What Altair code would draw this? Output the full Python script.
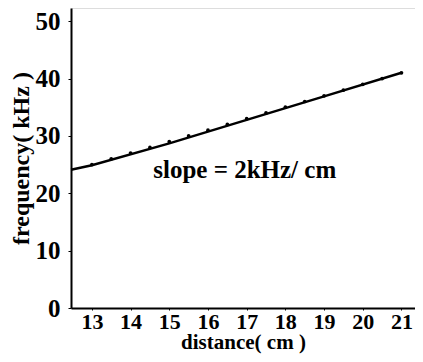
import altair as alt
import pandas as pd

# measured points (distance cm, frequency kHz)
dist_pts = [13, 13.5, 14, 14.5, 15, 15.5, 16, 16.5, 17, 17.5, 18, 18.5, 19, 19.5, 20, 20.5, 21]
freq_pts = [25, 26, 27, 28, 29, 30, 31, 32, 33, 34, 35, 36, 37, 38, 39, 40, 41]

# fitted line
line_x = [12.46, 13.0, 15.0, 17.0, 19.0, 21.0]
line_y = [24.1, 24.9, 28.7, 32.8, 36.9, 41.0]

x_ticks = [13, 14, 15, 16, 17, 18, 19, 20, 21]
y_ticks = [0, 10, 20, 30, 40, 50]

label_text = ["slope = 2kHz/ cm"]
label_x = [16.95]
label_y = [24.0]

FONT = "Liberation Serif"

pts = pd.DataFrame({"d": dist_pts, "f": freq_pts})
ln = pd.DataFrame({"d": line_x, "f": line_y})
lab = pd.DataFrame({"d": label_x, "f": label_y, "t": label_text})

xs = alt.Scale(domain=[12.46, 21.35], nice=False, zero=False)
ys = alt.Scale(domain=[0, 52.3], nice=False)

xaxis = alt.Axis(values=x_ticks, title="distance( cm )", grid=False, labelFont=FONT,
                 labelFontSize=22, labelFontWeight="bold", labelColor="black",
                 titleFont=FONT, titleFontSize=21, titleFontWeight="bold", titleColor="black",
                 domainColor="black", domainWidth=2, tickColor="black", tickSize=2,
                 labelPadding=1, titlePadding=-1, labelFlush=False)
yaxis = alt.Axis(values=y_ticks, title="frequency( kHz )", grid=False, labelFont=FONT,
                 labelFontSize=25, labelFontWeight="bold", labelColor="black",
                 titleFont=FONT, titleFontSize=24, titleFontWeight="bold", titleColor="black",
                 domainColor="black", domainWidth=2, tickColor="black", tickSize=3,
                 labelPadding=8, titlePadding=2, labelFlush=False)

line = alt.Chart(ln).mark_line(color="black", strokeWidth=2.5).encode(
    x=alt.X("d:Q", scale=xs, axis=xaxis),
    y=alt.Y("f:Q", scale=ys, axis=yaxis),
)
dots = alt.Chart(pts).mark_point(filled=True, color="black", size=14, opacity=1).encode(
    x=alt.X("d:Q", scale=xs),
    y=alt.Y("f:Q", scale=ys),
)
text = alt.Chart(lab).mark_text(font=FONT, fontSize=25, fontWeight="bold", color="black").encode(
    x=alt.X("d:Q", scale=xs),
    y=alt.Y("f:Q", scale=ys),
    text="t:N",
)

chart = (line + dots + text).properties(
    width=344, height=300,
    autosize=alt.AutoSizeParams(type="none"),
    padding={"left": 63, "top": 0, "right": 0, "bottom": 46},
).configure_view(stroke=None).configure(background="white")

chart.save("out.html", embed_options={"renderer": "svg", "actions": False})
